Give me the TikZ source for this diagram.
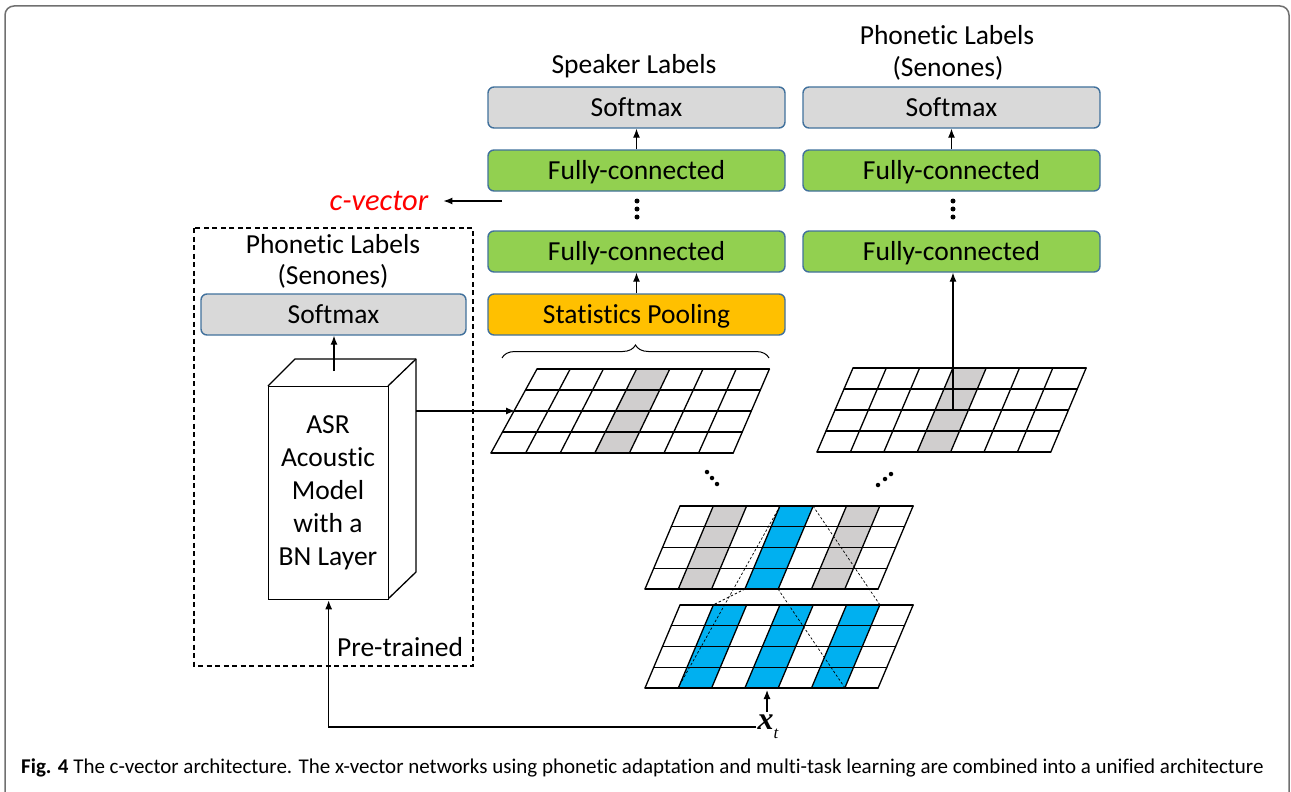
\documentclass[tikz,border=0pt]{standalone}
\usepackage{fontspec}
\setmainfont{Carlito}[Ligatures=NoCommon]
\newfontfamily\mathserif{Liberation Serif}
\usetikzlibrary{arrows.meta,decorations.pathreplacing}

\definecolor{boxline}{HTML}{41719C}
\definecolor{smgray}{HTML}{D9D9D9}
\definecolor{fcgreen}{HTML}{92D050}
\definecolor{poolorange}{HTML}{FFC000}
\definecolor{colgray}{HTML}{D0CECE}
\definecolor{colblue}{HTML}{00B0F0}
\definecolor{framegray}{HTML}{707070}

% slanted feature-map grid: 7 columns x 4 rows
% #1 top-left x, #2 top column width, #3 bottom-left x, #4 bottom column width, #5 top y, #6 bottom y
\newcommand{\tdnngrid}[6]{%
  \foreach \i in {0,...,7}
    \draw[gridline] ({#1+\i*#2},#5) -- ({#3+\i*#4},#6);
  \foreach \j in {0,...,4}
    \draw[gridline] ({#1+(#3-#1)*\j/4},{#5+(#6-#5)*\j/4}) --
      ({#1+7*#2+(#3+7*#4-#1-7*#2)*\j/4},{#5+(#6-#5)*\j/4});
}
% one shaded column of such a grid: #7 column index, #8 colour
\newcommand{\tdnncol}[8]{%
  \fill[#8] ({#1+#7*#2},#5) -- ({#1+(#7+1)*#2},#5) --
    ({#3+(#7+1)*#4},#6) -- ({#3+#7*#4},#6) -- cycle;
}

\tikzset{
  layerbox/.style={draw=boxline, line width=1.4pt, rounded corners=6pt,
    minimum width=297pt, minimum height=41pt, inner sep=0pt,
    text height=20pt, text depth=2pt,
    font=\fontsize{27.5}{32}\selectfont},
  smbox/.style={layerbox, fill=smgray},
  fcbox/.style={layerbox, fill=fcgreen},
  poolbox/.style={layerbox, fill=poolorange},
  gridline/.style={line width=1.3pt, line cap=round, line join=round},
  conn/.style={line width=1.2pt, -{Latex[length=9pt,width=7pt]}},
  cone/.style={line width=0.7pt, dash pattern=on 2.5pt off 2pt},
  lbl/.style={font=\fontsize{27.5}{32}\selectfont, inner sep=0pt, align=center},
  dotmark/.style={fill=black, circle, inner sep=0pt, minimum size=5pt},
}

\begin{document}
\begin{tikzpicture}[x=1pt, y=-1pt]
\useasboundingbox (0,0) rectangle (1291,792);

% figure frame
\draw[framegray, line width=1.5pt, rounded corners=9pt]
  (5,795) -- (5,6) -- (1289,6) -- (1289,795);

% ---------- speaker branch ----------
\node[lbl] (spklbl) at (634,66) {Speaker Labels};
\node[smbox]   (smL)   at (636.5,107.5) {Softmax};
\node[fcbox]   (fcL2)  at (636.5,170.5) {Fully-connected};
\node[fcbox]   (fcL1)  at (636.5,251.5) {Fully-connected};
\node[poolbox] (pool)  at (636.5,314.5) {Statistics Pooling};
\draw[conn] (fcL2.north) -- (smL.south);
\draw[conn] (pool.north) -- (fcL1.south);
\node[dotmark] (dL1) at (637,201) {};
\node[dotmark] (dL2) at (637,209) {};
\node[dotmark] (dL3) at (637,217) {};

% c-vector output
\node[lbl, text=red, font=\fontsize{30.5}{32}\selectfont\itshape] (cvec) at (379,201) {c-vector};
\coordinate (cvsrc) at (502,201);
\draw[conn] (cvsrc) -- ([xshift=15pt]cvec.east);

% ---------- phonetic branch ----------
\node[lbl] (phlblR1) at (947,35) {Phonetic Labels};
\node[lbl] (phlblR2) at (948,68) {(Senones)};
\node[smbox] (smR)  at (951.5,107.5) {Softmax};
\node[fcbox] (fcR2) at (951.5,170.5) {Fully-connected};
\node[fcbox] (fcR1) at (951.5,251.5) {Fully-connected};
\draw[conn] (fcR2.north) -- (smR.south);
\node[dotmark] (dR1) at (953,201) {};
\node[dotmark] (dR2) at (953,209) {};
\node[dotmark] (dR3) at (953,217) {};

% ---------- pre-trained ASR model ----------
\draw[line width=1.2pt, dash pattern=on 5pt off 3.5pt] (194,228) rectangle (473,666);
\node[lbl] (phlblL1) at (333,244) {Phonetic Labels};
\node[lbl] (phlblL2) at (333,276) {(Senones)};
\node[smbox, minimum width=265pt] (smLeft) at (333.5,314.5) {Softmax};
\node[lbl] (pretr) at (400,647) {Pre-trained};

% cuboid
\draw[line width=1.3pt, fill=white, line join=round]
  (268,386) -- (295,359) -- (416,359) -- (416,572) -- (388,599);
\draw[line width=1.3pt, line join=round] (388,386) -- (416,359);
\node[draw, line width=1.3pt, fill=white, minimum width=120pt, minimum height=213pt,
  inner sep=0pt, anchor=north west] (asr) at (268,386) {};
\node[lbl, font=\fontsize{27.5}{33}\selectfont] (asrtext) at (328,493)
  {ASR\\Acoustic\\Model\\with a\\BN Layer};
\coordinate (asrtop) at (334,371);
\coordinate (asrside) at (416,411);
\draw[conn] (asrtop) -- (smLeft.south -| asrtop);

% ---------- feature-map grids ----------
% speaker branch input
\tdnncol{537}{33.2}{491}{34.6}{369}{453}{3}{colgray}
\tdnngrid{537}{33.2}{491}{34.6}{369}{453}
% phonetic branch input
\tdnncol{853}{33.3}{817}{33.4}{368}{452}{3}{colgray}
\tdnngrid{853}{33.3}{817}{33.4}{368}{452}
% middle TDNN layer
\tdnncol{680}{33.3}{645}{33.3}{506}{589}{1}{colgray}
\tdnncol{680}{33.3}{645}{33.3}{506}{589}{3}{colblue}
\tdnncol{680}{33.3}{645}{33.3}{506}{589}{5}{colgray}
\tdnngrid{680}{33.3}{645}{33.3}{506}{589}
% input frames
\tdnncol{680}{33.3}{645}{33.3}{605}{688}{1}{colblue}
\tdnncol{680}{33.3}{645}{33.3}{605}{688}{3}{colblue}
\tdnncol{680}{33.3}{645}{33.3}{605}{688}{5}{colblue}
\tdnngrid{680}{33.3}{645}{33.3}{605}{688}

% receptive-field lines between the two lower layers
\coordinate (mTL) at (780,506);
\coordinate (mTR) at (813,506);
\coordinate (mBL) at (745,589);
\coordinate (mBR) at (778,589);
\coordinate (bTL) at (713,605);
\coordinate (bBL) at (678,688);
\coordinate (bTR) at (880,605);
\coordinate (bBR) at (845,688);
\draw[cone] (mTL) -- (bBL);
\draw[cone] (mBL) -- (bTL);
\draw[cone] (mTR) -- (bTR);
\draw[cone] (mBR) -- (bBR);

% diagonal ellipses
\node[dotmark, minimum size=4.5pt] (eL1) at (707,472) {};
\node[dotmark, minimum size=4.5pt] (eL2) at (712,478) {};
\node[dotmark, minimum size=4.5pt] (eL3) at (717,484) {};
\node[dotmark, minimum size=4.5pt] (eR1) at (878,485) {};
\node[dotmark, minimum size=4.5pt] (eR2) at (885,479) {};
\node[dotmark, minimum size=4.5pt] (eR3) at (891,474) {};

% pooling brace
\draw[line width=1pt, decorate, decoration={brace, amplitude=13pt}]
  (502,358) -- (769,358);

% grid connections
\coordinate (g1in) at (515,411);
\draw[conn] (asrside) -- (g1in);
\coordinate (g2col) at (953,410);
\draw[conn] (g2col) -- (fcR1.south -| g2col);

% input x_t
\node[inner sep=1pt, font=\fontsize{32}{32}\selectfont] (xt) at (768,727)
  {\mathserif\bfseries\itshape x\raisebox{-9pt}{\fontsize{17}{17}\selectfont\mdseries t}};
\coordinate (g4in) at (767,690);
\draw[conn] (767,712) -- (g4in);
\draw[conn] (xt.west) -- (xt.west -| asr.south) -- (asr.south);

% caption
\node[anchor=west, inner sep=0pt, font=\fontsize{21}{24}\selectfont] (caption) at (21,768)
  {\textbf{Fig. 4} The c-vector architecture. The x-vector networks using phonetic adaptation and multi-task learning are combined into a unified architecture};
\end{tikzpicture}
\end{document}
